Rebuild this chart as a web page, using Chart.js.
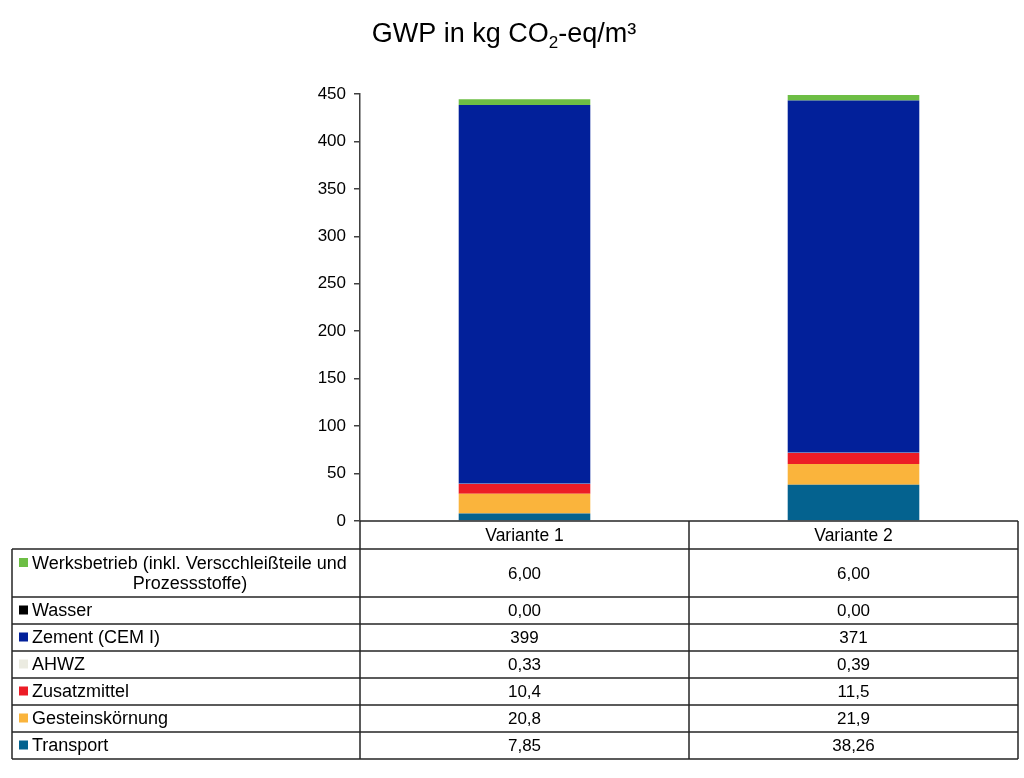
<!DOCTYPE html>
<html>
<head>
<meta charset="utf-8">
<title>GWP in kg CO2-eq/m³</title>
<script src="https://cdn.jsdelivr.net/npm/chart.js"></script>
<style>
  body { margin: 0; background: #ffffff; }
  canvas { display: block; }
</style>
</head>
<body>
<canvas id="gwpChart" width="1024" height="778"></canvas>
<script>
// categories (x axis / table columns)
const variants = ['Variante 1', 'Variante 2'];

// series, listed bottom of the stack first
const seriesNames = ['Transport', 'Gesteinskörnung', 'Zusatzmittel', 'AHWZ', 'Zement (CEM I)', 'Wasser',
    'Werksbetrieb (inkl. Verscchleißteile und Prozessstoffe)'];
const transport = [7.85, 38.26];
const gesteinskoernung = [20.8, 21.9];
const zusatzmittel = [10.4, 11.5];
const ahwz = [0.33, 0.39];
const zement = [399, 371];
const wasser = [0.00, 0.00];
const werksbetrieb = [6.00, 6.00];
// decimals shown in the data table for each series
const tableDecimals = [2, 1, 1, 2, 0, 2, 2];

// y axis
const yTicks = [0, 50, 100, 150, 200, 250, 300, 350, 400, 450];

const seriesValues = [transport, gesteinskoernung, zusatzmittel, ahwz, zement, wasser, werksbetrieb];
const seriesColors = ['#04628f', '#fab43c', '#ec1c26', '#ebebe1', '#02209a', '#000000', '#6dbe45'];

const FONT = "'Liberation Sans', Arial, sans-serif";

// title with a real subscript, centred on the page
const titlePlugin = {
    id: 'gwpTitle',
    afterDraw(chart) {
        const ctx = chart.ctx;
        const parts = [
            { t: 'GWP in kg CO', size: 27, dy: 0 },
            { t: '2', size: 17, dy: 6 },
            { t: '-eq/m³', size: 27, dy: 0 }
        ];
        ctx.save();
        ctx.fillStyle = '#000';
        ctx.textBaseline = 'alphabetic';
        ctx.textAlign = 'left';
        let total = 0;
        parts.forEach(p => { ctx.font = p.size + 'px ' + FONT; p.w = ctx.measureText(p.t).width; total += p.w; });
        let x = 504 - total / 2;
        parts.forEach(p => {
            ctx.font = p.size + 'px ' + FONT;
            ctx.fillText(p.t, x, 42 + p.dy);
            x += p.w;
        });
        ctx.restore();
    }
};

// draws the data table under the plot, columns taken from the x scale
const dataTablePlugin = {
    id: 'dataTable',
    afterDraw(chart) {
        const ctx = chart.ctx;
        const area = chart.chartArea;
        const xScale = chart.scales.x;
        const tableLeft = 12;
        const headerH = 28;
        const lineH = 20;

        // column boundaries
        const edges = [area.left];
        for (let i = 0; i < variants.length - 1; i++) {
            edges.push((xScale.getPixelForValue(i) + xScale.getPixelForValue(i + 1)) / 2);
        }
        edges.push(area.right);

        ctx.save();
        ctx.fillStyle = '#000';
        ctx.textBaseline = 'middle';
        ctx.strokeStyle = '#262626';
        ctx.lineWidth = 1.5;

        // header row
        const top = area.bottom;
        ctx.beginPath();
        ctx.moveTo(area.left, top);
        ctx.lineTo(area.right, top);
        edges.forEach(x => { ctx.moveTo(x, top); ctx.lineTo(x, top + headerH); });
        ctx.stroke();
        ctx.font = '17.5px ' + FONT;
        ctx.textAlign = 'center';
        variants.forEach((v, i) => {
            ctx.fillText(v, (edges[i] + edges[i + 1]) / 2, top + headerH / 2 + 1);
        });

        // body rows, top of the stack first
        const labelX = 32;
        const maxLabelW = area.left - labelX - 2;
        let y = top + headerH;
        const bodyTop = y;
        const rowLines = [y];
        for (let s = seriesNames.length - 1; s >= 0; s--) {
            ctx.font = '18px ' + FONT;
            // wrap label
            const words = seriesNames[s].split(' ');
            const lines = [];
            let cur = '';
            words.forEach(w => {
                const test = cur ? cur + ' ' + w : w;
                if (ctx.measureText(test).width > maxLabelW && cur) {
                    lines.push(cur);
                    cur = w;
                } else {
                    cur = test;
                }
            });
            lines.push(cur);
            const rowH = lines.length > 1 ? 48 : 27;
            const midY = y + rowH / 2 + 1;

            // legend square
            ctx.fillStyle = seriesColors[s];
            const firstLineY = lines.length > 1 ? midY - lineH / 2 : midY;
            ctx.fillRect(19, firstLineY - 6, 9, 9);

            ctx.fillStyle = '#000';
            lines.forEach((ln, k) => {
                const ly = midY + (k - (lines.length - 1) / 2) * lineH;
                if (k === 0) {
                    ctx.textAlign = 'left';
                    ctx.fillText(ln, labelX, ly);
                } else {
                    ctx.textAlign = 'center';
                    ctx.fillText(ln, (tableLeft + area.left) / 2 + 4, ly);
                }
            });

            ctx.font = '17px ' + FONT;
            ctx.textAlign = 'center';
            seriesValues[s].forEach((val, i) => {
                const txt = val.toLocaleString('de-DE', {
                    minimumFractionDigits: tableDecimals[s],
                    maximumFractionDigits: tableDecimals[s]
                });
                ctx.fillText(txt, (edges[i] + edges[i + 1]) / 2, midY);
            });

            y += rowH;
            rowLines.push(y);
        }

        ctx.beginPath();
        rowLines.forEach(ly => { ctx.moveTo(tableLeft, ly); ctx.lineTo(area.right, ly); });
        ctx.moveTo(tableLeft, bodyTop);
        ctx.lineTo(tableLeft, y);
        edges.forEach(x => { ctx.moveTo(x, bodyTop); ctx.lineTo(x, y); });
        ctx.stroke();
        ctx.restore();
    }
};

const ctx = document.getElementById('gwpChart').getContext('2d');

const gwpChart = new Chart(ctx, {
    type: 'bar',
    data: {
        labels: variants,
        datasets: seriesNames.map((name, i) => ({
            label: name,
            data: seriesValues[i],
            backgroundColor: seriesColors[i],
            borderWidth: 0,
            categoryPercentage: 1,
            barPercentage: 0.4
        }))
    },
    options: {
        responsive: false,
        animation: false,
        layout: {
            padding: { left: 300, right: 6, bottom: 257, top: 94 }
        },
        scales: {
            x: {
                stacked: true,
                display: false
            },
            y: {
                stacked: true,
                min: 0,
                max: 450,
                afterFit: (scale) => { scale.width = 60; },
                afterBuildTicks: (scale) => { scale.ticks = yTicks.map(v => ({ value: v })); },
                ticks: {
                    color: '#000',
                    padding: 8,
                    font: { family: FONT, size: 17 }
                },
                grid: {
                    display: true,
                    drawOnChartArea: false,
                    drawTicks: true,
                    tickLength: 6,
                    color: '#404040',
                    lineWidth: 1.5
                },
                border: { display: true, color: '#404040', width: 1.5 }
            }
        },
        plugins: {
            legend: { display: false },
            tooltip: { enabled: false },
            title: { display: false }
        }
    },
    plugins: [dataTablePlugin, titlePlugin]
});
</script>
</body>
</html>
